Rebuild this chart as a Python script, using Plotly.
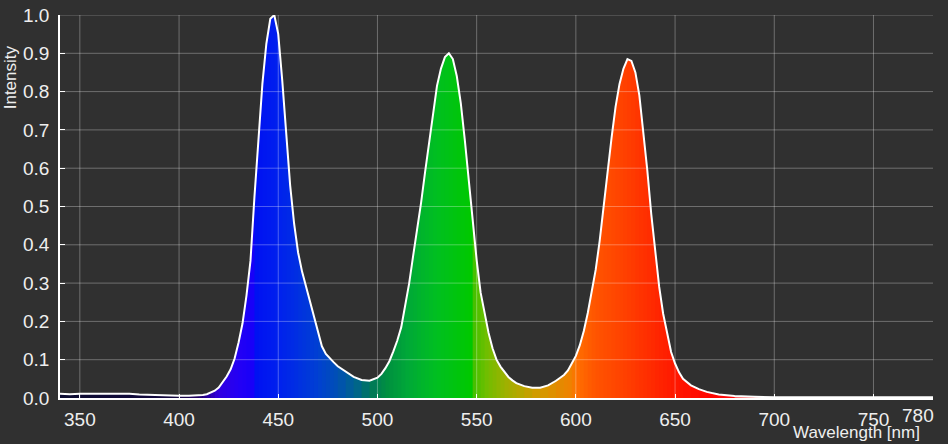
"""
LED spectrum (blue / green / red) with wavelength-coloured fill
"""
import plotly.graph_objects as go
from plotly import colors as pc

# ---- data
wavelength = [340, 345, 350, 355, 360, 365, 370, 375, 380, 385, 390, 395, 400, 405,
              410, 412, 414, 416, 418, 420, 422, 424, 426, 428, 430, 432, 434, 436, 438,
              440, 442, 444, 446, 448, 450, 452, 454, 456, 458, 460, 462, 464, 466, 468,
              470, 472, 474, 476, 478, 480, 484, 488, 492, 496, 500, 502, 504, 506, 508,
              510, 512, 514, 516, 518, 520, 522, 524, 526, 528, 530, 532, 534, 536, 538,
              540, 542, 544, 546, 548, 550, 552, 554, 556, 558, 560, 562, 564, 566, 568,
              570, 574, 578, 582, 586, 590, 594, 596, 598, 600, 602, 604, 606, 608, 610,
              612, 614, 616, 618, 620, 622, 624, 626, 628, 630, 632, 634, 636, 638, 640,
              642, 644, 646, 648, 650, 652, 654, 658, 662, 666, 672, 680, 690, 700, 720,
              740, 760, 780]
intensity = [0.011, 0.010, 0.011, 0.011, 0.012, 0.012, 0.012, 0.011, 0.009, 0.008, 0.007, 0.006, 0.006, 0.006,
             0.007, 0.008, 0.010, 0.014, 0.019, 0.027, 0.040, 0.056, 0.075, 0.103, 0.145, 0.195, 0.268, 0.358, 0.525,
             0.68, 0.82, 0.925, 0.99, 1.0, 0.95, 0.83, 0.69, 0.555, 0.455, 0.38, 0.33, 0.29, 0.25, 0.21,
             0.168, 0.135, 0.115, 0.103, 0.093, 0.083, 0.068, 0.055, 0.047, 0.045, 0.053, 0.063, 0.078, 0.096, 0.122,
             0.15, 0.185, 0.24, 0.30, 0.372, 0.44, 0.51, 0.59, 0.665, 0.745, 0.815, 0.86, 0.89, 0.90, 0.885,
             0.84, 0.77, 0.675, 0.57, 0.465, 0.36, 0.275, 0.218, 0.17, 0.13, 0.10, 0.082, 0.068, 0.055, 0.046,
             0.039, 0.031, 0.027, 0.027, 0.033, 0.045, 0.06, 0.072, 0.09, 0.11, 0.138, 0.175, 0.222, 0.275, 0.335,
             0.41, 0.505, 0.595, 0.68, 0.76, 0.82, 0.86, 0.885, 0.88, 0.85, 0.79, 0.70, 0.595, 0.48, 0.378,
             0.29, 0.22, 0.165, 0.12, 0.09, 0.067, 0.05, 0.033, 0.023, 0.016, 0.009, 0.005, 0.003, 0.002, 0.002,
             0.002, 0.002, 0.002]

x_ticks = [350, 400, 450, 500, 550, 600, 650, 700, 750]
y_ticks = [0.0, 0.1, 0.2, 0.3, 0.4, 0.5, 0.6, 0.7, 0.8, 0.9, 1.0]
x_range = [340, 780]

# ---- colour of the fill as a function of wavelength
spectrum_stops = [
    (340, "#0c0c30"), (400, "#140840"), (410, "#220068"), (420, "#3000e0"),
    (430, "#2400f4"), (437, "#1800f8"), (438, "#0010f2"), (450, "#0020ee"),
    (460, "#0030e2"), (470, "#0040d2"), (480, "#0050b4"), (490, "#006688"),
    (497, "#007858"), (505, "#009040"), (515, "#00a838"), (530, "#00c020"),
    (547, "#00c800"), (548, "#40c000"), (555, "#70be00"), (565, "#a0b000"),
    (580, "#d09c00"), (598, "#f08000"), (600, "#ff7000"), (610, "#ff5400"),
    (625, "#ff4000"), (640, "#ff2800"), (650, "#ff1800"), (665, "#ff0800"),
    (675, "#ff0000"), (690, "#ff9090"), (780, "#c0c0c0"),
]
BG = "#303030"
TXT = "#eeeeee"
FONT = "Liberation Sans, Arial, sans-serif"

_lo, _hi = spectrum_stops[0][0], spectrum_stops[-1][0]
spectrum_scale = [[(w - _lo) / (_hi - _lo), "rgb(%d,%d,%d)" % pc.hex_to_rgb(c)]
                  for w, c in spectrum_stops]


def spectrum_color(wl):
    return pc.sample_colorscale(spectrum_scale, [(wl - _lo) / (_hi - _lo)])[0]


fig = go.Figure()

# coloured fill: slice i runs from sample i to the end, the next slice covers
# the rest, so neighbouring slices overlap and leave no seams
for i in range(len(wavelength) - 1):
    mid = 0.5 * (wavelength[i] + wavelength[i + 1])
    fig.add_trace(go.Scatter(x=wavelength[i:], y=intensity[i:],
                             mode="lines", fill="tozeroy",
                             fillcolor=spectrum_color(mid),
                             line={"width": 0},
                             hoverinfo="skip", showlegend=False))

# white outline
fig.add_trace(go.Scatter(x=wavelength, y=intensity, mode="lines",
                         line={"color": "white", "width": 2},
                         cliponaxis=False, showlegend=False,
                         hovertemplate="%{x} nm: %{y:.3f}<extra></extra>"))

# grid lines drawn over the fill
grid = "rgba(255,255,255,0.3)"
for xv in x_ticks:
    fig.add_shape(type="line", xref="x", yref="paper", x0=xv, x1=xv, y0=0, y1=1,
                  line={"color": grid, "width": 1}, layer="above")
for yv in y_ticks[1:]:
    fig.add_shape(type="line", xref="paper", yref="y", x0=0, x1=1, y0=yv, y1=yv,
                  line={"color": grid, "width": 1}, layer="above")

fig.update_layout(
    width=948, height=444,
    margin={"l": 60, "r": 15, "t": 15, "b": 46, "autoexpand": False},
    paper_bgcolor=BG, plot_bgcolor=BG,
    font={"family": FONT, "color": TXT, "size": 19},
    showlegend=False,
)
fig.update_xaxes(range=x_range, tickvals=x_ticks + [780],
                 ticktext=[str(v) for v in x_ticks] + [""],
                 showgrid=False, zeroline=False, automargin=False,
                 showline=True, linecolor="white", linewidth=2,
                 ticks="inside", ticklen=4, tickcolor="white", tickwidth=1,
                 tickfont={"size": 19},
                 ticklabelstandoff=3, layer="above traces")
fig.update_yaxes(range=[0, 1], tickvals=y_ticks,
                 ticktext=[f"{v:.1f}" for v in y_ticks],
                 showgrid=False, zeroline=False, automargin=False,
                 showline=True, linecolor="white", linewidth=1.5,
                 ticks="inside", ticklen=5, tickcolor="white", tickwidth=1,
                 tickfont={"size": 19},
                 ticklabelstandoff=5, layer="above traces")

# 780 label kept inside the page, and the axis titles
fig.add_annotation(text="780", x=780, xref="x", y=0, yref="paper",
                   xanchor="right", yanchor="top", xshift=3, yshift=-5,
                   showarrow=False, font={"size": 19, "color": TXT})
fig.add_annotation(text="Intensity", x=-0.057, xref="paper", y=0.838, yref="paper",
                   textangle=-90, xanchor="center", yanchor="middle",
                   showarrow=False, font={"size": 17, "color": TXT})
fig.add_annotation(text="Wavelength [nm]", x=0.912, xref="paper", y=-0.0905, yref="paper",
                   xanchor="center", yanchor="middle",
                   showarrow=False, font={"size": 17, "color": TXT})

fig.write_html("out.html", config={"displayModeBar": False},
               post_script="document.body.style.margin='0';")
